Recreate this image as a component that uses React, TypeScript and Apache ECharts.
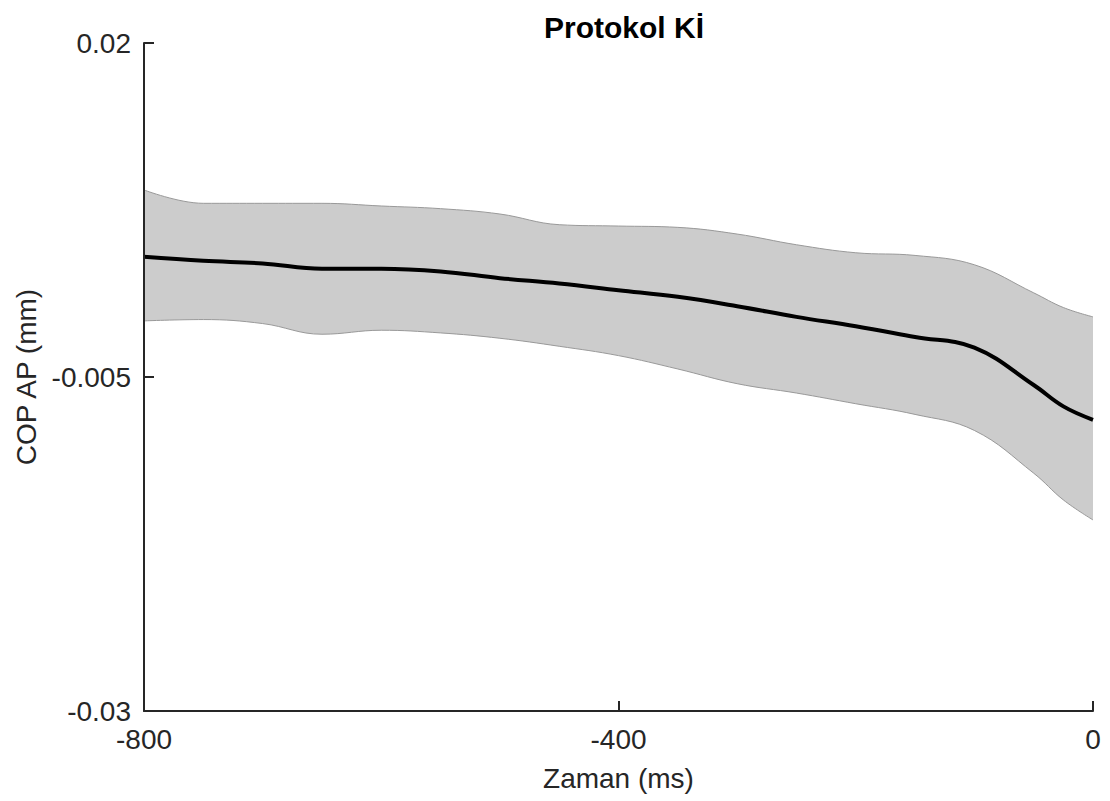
import React, { useEffect, useRef } from "react";
import * as echarts from "echarts";

const times = [-800, -750, -700, -650, -600, -550, -500, -450, -400, -350, -300, -250, -200, -150, -100, -50, -25, 0];
const meanVals = [0.0040, 0.0037, 0.0035, 0.0031, 0.0031, 0.0029, 0.0024, 0.0020, 0.0015, 0.0010, 0.0003, -0.0005, -0.0012, -0.0020, -0.0028, -0.0056, -0.0072, -0.0082];
const upperVals = [0.0090, 0.0080, 0.0080, 0.0080, 0.0078, 0.0076, 0.0072, 0.0064, 0.0063, 0.0062, 0.0057, 0.0049, 0.0043, 0.0041, 0.0034, 0.0013, 0.0002, -0.0005];
const lowerVals = [-0.0008, -0.0007, -0.0010, -0.0018, -0.0015, -0.0017, -0.0021, -0.0027, -0.0034, -0.0044, -0.0055, -0.0062, -0.0070, -0.0078, -0.0090, -0.0122, -0.0142, -0.0157];
const yTicks = [-0.03, -0.005, 0.02];
const yTickLabels = ["-0.03", "-0.005", "0.02"];
const xTicks = [-800, -400, 0];

const TITLE = "Protokol Kİ";
const X_NAME = "Zaman (ms)";
const Y_NAME = "COP AP (mm)";

export default function App() {
  const ref = useRef<HTMLDivElement>(null);
  useEffect(() => {
    document.body.style.margin = "0";
    const chart = echarts.init(ref.current!, null, { renderer: "svg" });
    const font = "'Liberation Sans', Arial, Helvetica, sans-serif";
    const axisColor = "#262626";
    const upper = times.map((t, i) => [t, upperVals[i]]);
    const lower = times.map((t, i) => [t, lowerVals[i]]);
    const mean = times.map((t, i) => [t, meanVals[i]]);
    chart.setOption({
      animation: false,
      backgroundColor: "#ffffff",
      title: {
        text: TITLE,
        left: 619,
        top: 7,
        textAlign: "center",
        textStyle: { fontFamily: font, fontWeight: "bold", fontSize: 30, color: "#000000" },
      },
      grid: { left: 144, right: 17, top: 43, bottom: 90, containLabel: false },
      xAxis: {
        type: "value",
        min: -800,
        max: 0,
        interval: 400,
        z: 10,
        name: X_NAME,
        nameLocation: "middle",
        nameGap: 53,
        nameTextStyle: { fontFamily: font, fontSize: 28, color: axisColor },
        axisLine: { show: true, onZero: false, lineStyle: { color: axisColor, width: 2 } },
        axisTick: { show: true, inside: true, length: 10, lineStyle: { color: axisColor, width: 2 }, customValues: xTicks },
        axisLabel: { fontFamily: font, fontSize: 28, color: axisColor, margin: 14, customValues: xTicks, showMinLabel: true, showMaxLabel: true },
        splitLine: { show: false },
      },
      yAxis: {
        type: "value",
        min: -0.03,
        max: 0.02,
        z: 10,
        name: Y_NAME,
        nameLocation: "middle",
        nameGap: 102,
        nameTextStyle: { fontFamily: font, fontSize: 28, color: axisColor },
        axisLine: { show: true, onZero: false, lineStyle: { color: axisColor, width: 2 } },
        axisTick: { show: true, inside: true, length: 10, lineStyle: { color: axisColor, width: 2 }, customValues: yTicks },
        axisLabel: {
          fontFamily: font,
          fontSize: 28,
          color: axisColor,
          margin: 13,
          customValues: yTicks,
          showMinLabel: true,
          showMaxLabel: true,
          formatter: (v: number) => {
            const idx = yTicks.findIndex((t) => Math.abs(t - v) < 1e-9);
            return idx >= 0 ? yTickLabels[idx] : String(v);
          },
        },
        splitLine: { show: false },
      },
      series: [
        {
          type: "line",
          data: upper,
          smooth: 0.4,
          symbol: "none",
          lineStyle: { color: "#999999", width: 1 },
          areaStyle: { color: "#cccccc", opacity: 1, origin: "start" },
          z: 2,
        },
        {
          type: "line",
          data: lower,
          smooth: 0.4,
          symbol: "none",
          lineStyle: { color: "#999999", width: 1 },
          areaStyle: { color: "#ffffff", opacity: 1, origin: "start" },
          z: 3,
        },
        {
          type: "line",
          data: mean,
          smooth: 0.4,
          symbol: "none",
          lineStyle: { color: "#000000", width: 4 },
          z: 4,
        },
      ],
    });
    return () => chart.dispose();
  }, []);
  return <div ref={ref} style={{ width: 1110, height: 801 }} />;
}
